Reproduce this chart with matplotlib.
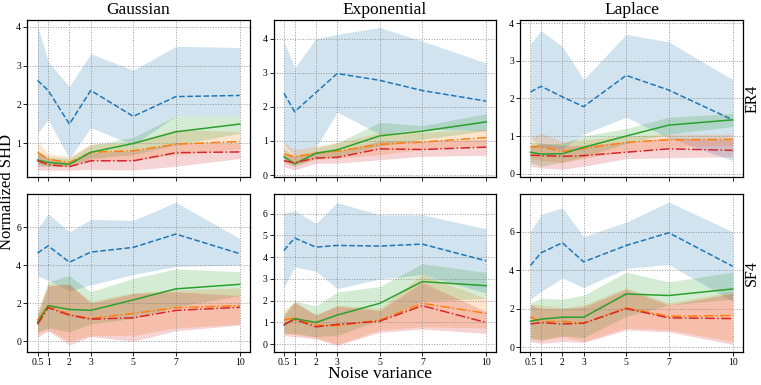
import os

os.environ.setdefault("MPLBACKEND", "Agg")

import matplotlib.pyplot as plt

# noise variances on the x axis
noise_var = [0.5, 1, 2, 3, 5, 7, 10]
tick_labels = ["0.5", "1", "2", "3", "5", "7", "10"]

col_titles = ["Gaussian", "Exponential", "Laplace"]
row_titles = ["ER4", "SF4"]

# per panel: rows are the four methods (blue, orange, green, red)
er_gauss_mean = [
    [2.62, 2.36, 1.49, 2.36, 1.69, 2.20, 2.23],
    [0.76, 0.58, 0.50, 0.76, 0.80, 0.97, 1.04],
    [0.56, 0.50, 0.45, 0.76, 0.99, 1.29, 1.49],
    [0.54, 0.44, 0.39, 0.54, 0.54, 0.75, 0.77],
]
er_gauss_lo = [
    [1.25, 1.60, 0.60, 1.40, 0.95, 1.70, 1.70],
    [0.45, 0.40, 0.40, 0.55, 0.55, 0.70, 0.85],
    [0.40, 0.40, 0.40, 0.60, 0.70, 0.95, 1.25],
    [0.30, 0.30, 0.30, 0.32, 0.30, 0.40, 0.60],
]
er_gauss_hi = [
    [4.05, 3.10, 2.46, 3.31, 2.88, 3.50, 3.47],
    [1.05, 0.72, 0.65, 0.98, 1.00, 1.35, 1.30],
    [0.75, 0.65, 0.60, 0.95, 1.15, 1.70, 1.70],
    [0.75, 0.60, 0.50, 0.75, 0.80, 1.00, 1.00],
]

er_exp_mean = [
    [2.40, 1.86, 2.42, 2.98, 2.78, 2.48, 2.17],
    [0.62, 0.54, 0.64, 0.70, 0.90, 0.97, 1.10],
    [0.54, 0.33, 0.64, 0.74, 1.15, 1.29, 1.56],
    [0.42, 0.36, 0.50, 0.52, 0.77, 0.75, 0.82],
]
er_exp_lo = [
    [0.90, 0.55, 0.80, 1.85, 1.20, 1.35, 1.30],
    [0.35, 0.30, 0.45, 0.50, 0.60, 0.75, 0.85],
    [0.40, 0.25, 0.50, 0.55, 0.85, 1.05, 1.30],
    [0.25, 0.15, 0.35, 0.35, 0.45, 0.55, 0.58],
]
er_exp_hi = [
    [3.93, 3.14, 4.00, 4.13, 4.33, 3.93, 3.29],
    [0.95, 0.75, 0.85, 0.95, 1.25, 1.25, 1.35],
    [0.80, 0.55, 0.80, 0.95, 1.55, 1.45, 1.80],
    [0.60, 0.55, 0.70, 0.70, 1.00, 1.00, 1.05],
]

er_lap_mean = [
    [2.17, 2.32, 2.04, 1.78, 2.61, 2.22, 1.43],
    [0.71, 0.72, 0.59, 0.67, 0.83, 0.90, 0.91],
    [0.57, 0.52, 0.53, 0.70, 1.00, 1.29, 1.43],
    [0.49, 0.48, 0.46, 0.48, 0.57, 0.66, 0.62],
]
er_lap_lo = [
    [0.95, 0.70, 0.65, 1.05, 1.50, 0.95, 0.35],
    [0.40, 0.35, 0.30, 0.40, 0.60, 0.70, 0.75],
    [0.30, 0.20, 0.30, 0.45, 0.80, 1.05, 1.25],
    [0.20, 0.15, 0.12, 0.20, 0.40, 0.42, 0.45],
]
er_lap_hi = [
    [3.45, 3.80, 3.38, 2.50, 3.70, 3.50, 2.50],
    [0.95, 1.08, 0.85, 0.90, 1.00, 1.05, 1.05],
    [0.85, 0.80, 0.80, 1.00, 1.20, 1.50, 1.60],
    [0.75, 0.80, 0.75, 0.75, 0.85, 0.95, 0.90],
]

sf_gauss_mean = [
    [4.63, 5.01, 4.15, 4.68, 4.93, 5.63, 4.60],
    [1.10, 1.87, 1.41, 1.20, 1.46, 1.76, 1.87],
    [0.99, 1.87, 1.67, 1.62, 2.17, 2.75, 2.99],
    [0.88, 1.76, 1.37, 1.16, 1.23, 1.62, 1.78],
]
sf_gauss_lo = [
    [3.43, 3.20, 2.64, 2.96, 3.50, 3.93, 4.00],
    [0.40, 0.60, 0.00, 0.30, 0.30, 0.70, 0.90],
    [0.50, 0.70, 0.50, 0.90, 1.20, 1.80, 2.40],
    [0.20, 0.55, -0.20, 0.25, 0.00, 0.55, 0.85],
]
sf_gauss_hi = [
    [5.90, 6.70, 5.75, 6.40, 6.35, 7.30, 5.40],
    [1.60, 3.00, 3.00, 2.10, 2.55, 2.70, 2.80],
    [1.50, 3.10, 3.45, 2.60, 3.30, 3.80, 3.65],
    [1.30, 2.90, 3.00, 2.00, 2.50, 2.60, 2.40],
]

sf_exp_mean = [
    [4.31, 4.88, 4.46, 4.54, 4.51, 4.60, 3.83],
    [1.11, 1.22, 0.88, 0.85, 1.11, 1.88, 1.42],
    [0.88, 1.18, 1.00, 1.34, 1.88, 2.88, 2.69],
    [0.91, 1.14, 0.80, 0.91, 1.06, 1.77, 1.00],
]
sf_exp_lo = [
    [2.60, 3.55, 3.35, 2.55, 3.00, 3.20, 2.35],
    [0.50, 0.45, 0.30, 0.00, 0.65, 0.80, 0.75],
    [0.50, 0.50, 0.35, 0.40, 1.10, 2.00, 2.10],
    [0.40, 0.35, 0.25, -0.05, 0.55, 0.70, 0.50],
]
sf_exp_hi = [
    [6.00, 6.15, 5.55, 6.50, 5.95, 5.95, 5.30],
    [1.60, 1.90, 1.35, 1.80, 1.65, 3.20, 2.10],
    [1.40, 2.00, 1.75, 2.40, 2.65, 3.70, 3.30],
    [1.30, 1.95, 1.35, 1.75, 1.55, 2.85, 1.50],
]

sf_lap_mean = [
    [4.25, 4.91, 5.43, 4.44, 5.29, 5.95, 4.21],
    [1.58, 1.32, 1.35, 1.25, 2.05, 1.61, 1.65],
    [1.35, 1.46, 1.56, 1.56, 2.77, 2.69, 3.03],
    [1.21, 1.28, 1.21, 1.25, 2.01, 1.53, 1.49],
]
sf_lap_lo = [
    [2.50, 2.90, 3.60, 3.10, 4.10, 4.30, 2.40],
    [0.40, 0.35, 0.55, 0.30, 1.00, 0.90, 0.30],
    [0.50, 0.40, 0.60, 0.50, 1.60, 2.20, 2.50],
    [0.30, 0.20, 0.30, 0.25, 0.90, 0.80, 0.15],
]
sf_lap_hi = [
    [6.00, 6.90, 7.25, 5.75, 6.50, 7.55, 6.00],
    [2.25, 2.20, 2.05, 2.20, 3.10, 2.30, 2.90],
    [2.30, 2.55, 2.50, 2.70, 3.90, 3.40, 3.90],
    [2.20, 2.00, 2.00, 2.10, 3.00, 2.20, 2.80],
]

panels = [
    [(er_gauss_mean, er_gauss_lo, er_gauss_hi),
     (er_exp_mean, er_exp_lo, er_exp_hi),
     (er_lap_mean, er_lap_lo, er_lap_hi)],
    [(sf_gauss_mean, sf_gauss_lo, sf_gauss_hi),
     (sf_exp_mean, sf_exp_lo, sf_exp_hi),
     (sf_lap_mean, sf_lap_lo, sf_lap_hi)],
]

# y ranges and ticks as shown in each panel
ylims = [
    [(0.11, 4.18), (-0.07, 4.55), (-0.1, 4.08)],
    [(-0.56, 7.71), (-0.35, 6.88), (-0.24, 7.94)],
]
yticks = [
    [[1, 2, 3, 4], [0, 1, 2, 3, 4], [0, 1, 2, 3, 4]],
    [[0, 2, 4, 6], [0, 1, 2, 3, 4, 5, 6], [0, 2, 4, 6]],
]

colors = ["tab:blue", "tab:orange", "tab:green", "tab:red"]
styles = ["--", "-.", "-", "-."]

plt.rcParams["font.family"] = ["Liberation Serif", "DejaVu Serif"]

fig, axes = plt.subplots(2, 3, figsize=(7.61, 3.85), dpi=100, sharex=True)
fig.subplots_adjust(left=0.036, right=0.976, top=0.948, bottom=0.086,
                    wspace=0.108, hspace=0.108)

for r in range(2):
    for c in range(3):
        ax = axes[r, c]
        mean, lo, hi = panels[r][c]
        for k in range(4):
            ax.fill_between(noise_var, lo[k], hi[k], color=colors[k],
                            alpha=0.2, linewidth=0)
        for k in range(4):
            ax.plot(noise_var, mean[k], color=colors[k], linestyle=styles[k],
                    linewidth=1.1)
        ax.set_ylim(*ylims[r][c])
        ax.set_yticks(yticks[r][c])
        ax.grid(True, linestyle=":", color="gray", linewidth=0.7, alpha=0.8)
        ax.tick_params(labelsize=7, length=3, width=0.6, pad=1.5)
        for sp in ax.spines.values():
            sp.set_linewidth(0.9)
        if r == 0:
            ax.set_title(col_titles[c], fontsize=12.5, pad=4)
        if c == 2:
            ax.yaxis.set_label_position("right")
            ax.set_ylabel(row_titles[r], fontsize=11.5, labelpad=1)

axes[1, 0].set_xticks(noise_var)
axes[1, 0].set_xticklabels(tick_labels)

fig.text(0.0095, 0.5, "Normalized SHD", rotation=90, ha="center",
         va="center", fontsize=12)
fig.text(0.5, 0.028, "Noise variance", ha="center", va="center",
         fontsize=12.5)

fig.savefig("out.png", dpi=100)
plt.close(fig)
